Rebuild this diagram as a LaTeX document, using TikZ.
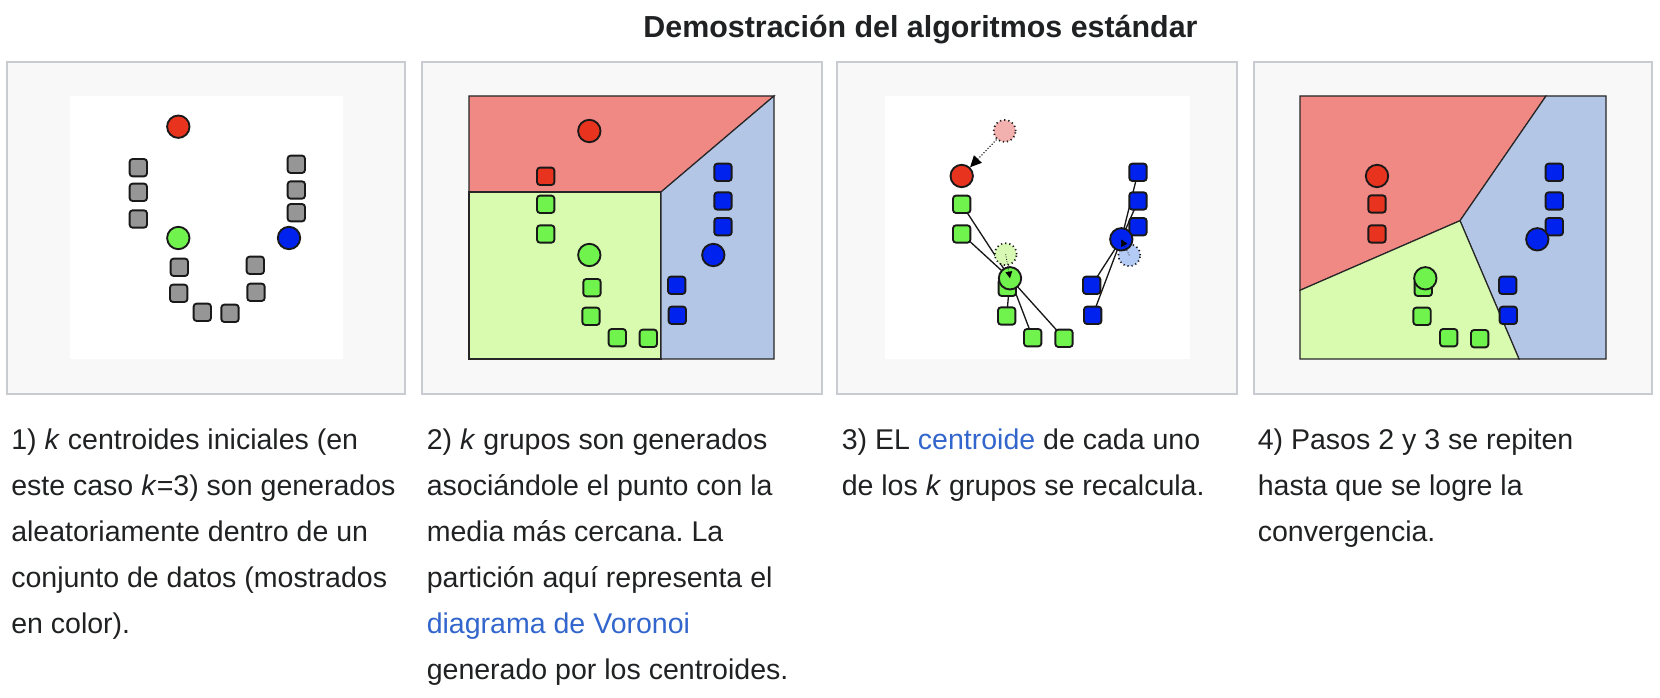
\documentclass[tikz,border=0pt]{standalone}
\usepackage{fontspec}
\setmainfont{Liberation Sans}
\usetikzlibrary{arrows.meta}
\definecolor{txt}{HTML}{202122}
\definecolor{link}{HTML}{3366CC}
\definecolor{framebg}{HTML}{F8F8F8}
\definecolor{frameln}{HTML}{C8CCD1}
\definecolor{cred}{HTML}{E8331F}
\definecolor{cgreen}{HTML}{70F34C}
\definecolor{cblue}{HTML}{0022EE}
\definecolor{cgray}{HTML}{969696}
\definecolor{rred}{HTML}{F08884}
\definecolor{rgreen}{HTML}{D8FBB0}
\definecolor{rblue}{HTML}{B4C6E6}
\definecolor{fred}{HTML}{F2B0AE}
\definecolor{fgreen}{HTML}{D8F9B4}
\definecolor{fblue}{HTML}{B4CBF5}
\pgfdeclarelayer{back}
\pgfdeclarelayer{lines}
\pgfsetlayers{back,lines,main}
\tikzset{
  sq/.style={draw=black!90, line width=1.4pt, rounded corners=2.2pt, minimum size=13pt, inner sep=0pt},
  ctr/.style={circle, draw=black!90, line width=1.4pt, minimum size=16.8pt, inner sep=0pt},
  ghost/.style={circle, draw=black!90, line width=1.3pt, dash pattern=on 0.9pt off 2.2pt, minimum size=16.5pt, inner sep=0pt},
  panelframe/.style={draw=frameln, fill=framebg, line width=0.9pt},
  region/.style={draw=black!85, line width=0.9pt},
  captext/.style={font=\fontsize{21.4pt}{34.5pt}\selectfont\frenchspacing, text=txt, align=left, inner sep=0pt, anchor=base west},
  link line/.style={draw=black!90, line width=1pt},
}
\begin{document}
\begin{tikzpicture}[x=0.75pt,y=-0.75pt]
\useasboundingbox (0,0) rectangle (1660,698);
% title
\node[font=\fontsize{22.8pt}{26pt}\selectfont\bfseries, text=txt, anchor=base, inner sep=0pt] (title) at (920.5,37.3) {Demostración del algoritmos estándar};
\begin{pgfonlayer}{back}
\fill[white] (0,0) rectangle (1660,698);
% frames
\draw[panelframe] (7,62) rectangle (405,394);
\draw[panelframe] (422,62) rectangle (822,394);
\draw[panelframe] (837,62) rectangle (1237,394);
\draw[panelframe] (1254,62) rectangle (1652,394);
% panel 1 background
\fill[white] (70,96) rectangle (343,359);
% panel 2 regions
\filldraw[region, fill=rred] (469,96) -- (774,96) -- (661,192) -- (469,192) -- cycle;
\filldraw[region, fill=rgreen] (469,192) -- (661,192) -- (661,359) -- (469,359) -- cycle;
\filldraw[region, fill=rblue] (661,192) -- (774,96) -- (774,359) -- (661,359) -- cycle;
% panel 3 background
\fill[white] (885,96) rectangle (1190,359);
% panel 4 regions
\filldraw[region, fill=rred] (1300,96) -- (1546,96) -- (1460,220.7) -- (1300,290.3) -- cycle;
\filldraw[region, fill=rblue] (1546,96) -- (1606,96) -- (1606,359) -- (1519,359) -- (1460,220.7) -- cycle;
\filldraw[region, fill=rgreen] (1300,290.3) -- (1460,220.7) -- (1519,359) -- (1300,359) -- cycle;
\end{pgfonlayer}
% ---------- panel 1 ----------
\foreach \n/\x/\y in {1/138.3/167.7, 2/138.3/192.3, 3/138.3/219, 4/296.3/164.3, 5/296.3/190, 6/296.3/212.7, 7/179.3/267.3, 8/178.7/293.3, 9/202.3/312.3, 10/230/313.3, 11/255.3/265.3, 12/256/292.3}
  \node[sq, fill=cgray] (a\n) at (\x,\y) {};
\node[ctr, fill=cred] (ar) at (178.3,126.7) {};
\node[ctr, fill=cgreen] (ag) at (178.3,238) {};
\node[ctr, fill=cblue] (ab) at (289,238) {};
% ---------- panel 2 ----------
\node[sq, fill=cred] (b1) at (545.7,176.3) {};
\foreach \n/\x/\y in {2/545.7/204.3, 3/545.7/234, 4/592/287.7, 5/591/316.3, 6/617.3/337.7, 7/648.3/338.3}
  \node[sq, fill=cgreen] (b\n) at (\x,\y) {};
\foreach \n/\x/\y in {8/723/172.3, 9/723/201, 10/723/226.7, 11/676.7/285.3, 12/677.3/315.3}
  \node[sq, fill=cblue] (b\n) at (\x,\y) {};
\node[ctr, fill=cred] (br) at (589.3,131) {};
\node[ctr, fill=cgreen] (bg) at (589.3,255) {};
\node[ctr, fill=cblue] (bb) at (713.3,255) {};
% ---------- panel 3 ----------
\node[ghost, fill=fred] (cfr) at (1004.7,131) {};
\node[ghost, fill=fgreen] (cfg) at (1005.7,254.3) {};
\node[ghost, fill=fblue] (cfb) at (1129.3,255.3) {};
\foreach \n/\x/\y in {2/961.7/204.3, 3/961.7/234, 4/1007.3/287.3, 5/1006.7/316, 6/1032.7/337.7, 7/1064/338.3}
  \node[sq, fill=cgreen] (c\n) at (\x,\y) {};
\foreach \n/\x/\y in {8/1138/172.3, 9/1138/201, 10/1138/226.7, 11/1091.7/285.3, 12/1092.7/315.3}
  \node[sq, fill=cblue] (c\n) at (\x,\y) {};
\node[ctr, fill=cred] (cr) at (961.7,176) {};
\node[ctr, fill=cgreen] (cg) at (1010,278.3) {};
\node[ctr, fill=cblue] (cb) at (1121.3,239.3) {};
\begin{pgfonlayer}{lines}
\foreach \n in {2,3,4,5,6,7} \draw[link line] (cg.center) -- (c\n.center);
\foreach \n in {8,9,10,11,12} \draw[link line] (cb.center) -- (c\n.center);
\end{pgfonlayer}
\draw[line width=0.8pt, dash pattern=on 0.8pt off 1.4pt, -{Triangle[length=8.5pt,width=8pt]}] (cfr) -- (cr);
\draw[line width=0.6pt, dash pattern=on 0.6pt off 1.2pt, -{Triangle[length=5pt,width=5pt]}] (cfg.center) -- (cg.center);
\draw[line width=0.6pt, dash pattern=on 0.6pt off 1.2pt, -{Triangle[length=5pt,width=5pt]}] (cfb.center) -- (cb.center);
% ---------- panel 4 ----------
\foreach \n/\x/\y in {1/1377/204, 2/1377/234}
  \node[sq, fill=cred] (d\n) at (\x,\y) {};
\foreach \n/\x/\y in {3/1423.3/287.3, 4/1422/316.3, 5/1448.7/337.7, 6/1479.7/338.7}
  \node[sq, fill=cgreen] (d\n) at (\x,\y) {};
\foreach \n/\x/\y in {7/1554.3/172.3, 8/1554.3/201, 9/1554.3/226.7, 10/1507.7/285.3, 11/1508.3/315.3}
  \node[sq, fill=cblue] (d\n) at (\x,\y) {};
\node[ctr, fill=cred] (dr) at (1377,176) {};
\node[ctr, fill=cgreen] (dg) at (1425.3,278.3) {};
\node[ctr, fill=cblue] (db) at (1537.3,239.3) {};
% ---------- captions (anchored at baseline of last line) ----------
\node[captext] (cap1) at (11,633) {1) \textit{k} centroides iniciales (en\\este caso \textit{k}=3) son generados\\aleatoriamente dentro de un\\conjunto de datos (mostrados\\en color).};
\node[captext] (cap2) at (426.5,679) {2) \textit{k} grupos son generados\\asociándole el punto con la\\media más cercana. La\\partición aquí representa el\\\textcolor{link}{diagrama de Voronoi}\\generado por los centroides.};
\node[captext] (cap3) at (841.5,495) {3) EL \textcolor{link}{centroide} de cada uno\\de los \textit{k} grupos se recalcula.};
\node[captext] (cap4) at (1257.5,541) {4) Pasos 2 y 3 se repiten\\hasta que se logre la\\convergencia.};
\end{tikzpicture}
\end{document}
